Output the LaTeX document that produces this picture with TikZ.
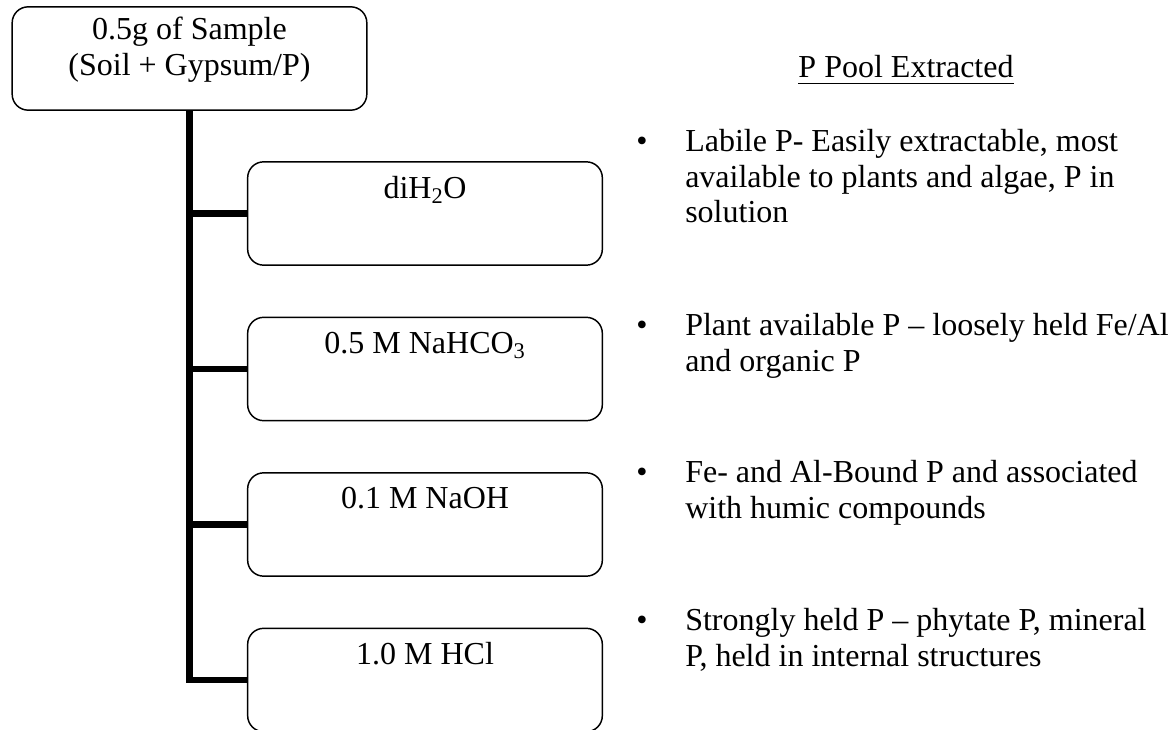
\documentclass[tikz,border=0pt]{standalone}
\usepackage{fontspec}
\setmainfont{Liberation Serif}
\begin{document}
\begin{tikzpicture}[x=0.75pt,y=-0.75pt,
  font=\fontsize{24}{26.5}\selectfont,
  box/.style={draw, line width=1.1pt, rounded corners=12pt, minimum width=266pt, minimum height=77.5pt, inner sep=0pt},
  lbl/.style={inner sep=0pt, anchor=base},
  trunk/.style={line width=4.6pt, line join=miter}]
\useasboundingbox (0,0) rectangle (1175,730);

% boxes
\node[box] (top) at (189.5,58.5) {};
\node[box] (s1) at (425,213.5) {};
\node[box] (s2) at (425,369) {};
\node[box] (s3) at (425,524.5) {};
\node[box] (s4) at (425,680) {};

% box texts
\node[lbl] (topt) at (189.5,40) {\begin{tabular}[t]{@{}c@{}}0.5g of Sample\\(Soil + Gypsum/P)\end{tabular}};
\node[lbl] (s1t) at (425,199) {diH\textsubscript{2}O};
\node[lbl] (s2t) at (425,354) {0.5 M NaHCO\textsubscript{3}};
\node[lbl] (s3t) at (425,509) {0.1 M NaOH};
\node[lbl] (s4t) at (425,664) {1.0 M HCl};

% connectors
\draw[trunk] (top.south) |- (s4.west);
\draw[trunk] (top.south |- s1.west) -- (s1.west);
\draw[trunk] (top.south |- s2.west) -- (s2.west);
\draw[trunk] (top.south |- s3.west) -- (s3.west);

% right column
\node[lbl] (title) at (906,78) {P Pool Extracted};
\draw[line width=1.1pt] ([yshift=-4pt]title.base west) -- ([yshift=-4pt]title.base east);

\node[lbl] (b1) at (642,152) {•};
\node[lbl] (b2) at (642,336) {•};
\node[lbl] (b3) at (642,483) {•};
\node[lbl] (b4) at (642,631) {•};

\node[lbl, anchor=base west] (i1) at (685,152) {\begin{tabular}[t]{@{}l@{}}Labile P- Easily extractable, most\\available to plants and algae, P in\\solution\end{tabular}};
\node[lbl, anchor=base west] (i2) at (685,336) {\begin{tabular}[t]{@{}l@{}}Plant available P – loosely held Fe/Al\\and organic P\end{tabular}};
\node[lbl, anchor=base west] (i3) at (685,483) {\begin{tabular}[t]{@{}l@{}}Fe- and Al-Bound P and associated\\with humic compounds\end{tabular}};
\node[lbl, anchor=base west] (i4) at (685,631) {\begin{tabular}[t]{@{}l@{}}Strongly held P – phytate P, mineral\\P, held in internal structures\end{tabular}};
\end{tikzpicture}
\end{document}
